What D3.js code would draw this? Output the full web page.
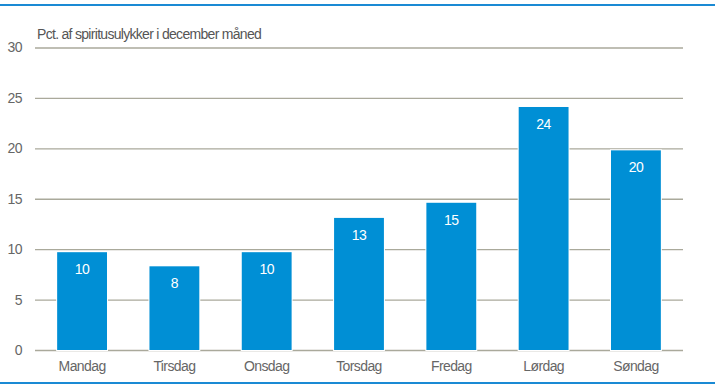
<!DOCTYPE html>
<html><head><meta charset="utf-8">
<script src="https://cdn.jsdelivr.net/npm/d3@7/dist/d3.min.js"></script>
<style>body{margin:0;background:#fff}svg{display:block}text{font-family:"Liberation Sans",Arial,sans-serif}</style>
</head><body>
<svg id="c" width="715" height="391"></svg>
<script>
const categories = ["Mandag","Tirsdag","Onsdag","Torsdag","Fredag","Lørdag","Søndag"];
const values = [9.7, 8.3, 9.7, 13.1, 14.6, 24.1, 19.8];
const labels = ["10","8","10","13","15","24","20"];
const yTicks = [0,5,10,15,20,25,30];
const title = "Pct. af spiritusulykker i december måned";

const svg = d3.select("#c");
const x = d3.scaleBand().domain(categories).range([35,683]).paddingInner(0.46).paddingOuter(0.24);
const y = d3.scaleLinear().domain([0,30]).range([350,47.5]);

// frame lines
svg.append("rect").attr("x",0).attr("y",4).attr("width",715).attr("height",2).attr("fill","#1a8ad4");
svg.append("rect").attr("x",0).attr("y",382).attr("width",715).attr("height",2).attr("fill","#1a8ad4");

// grid
const gy = svg.append("g").attr("transform","translate(35,0)")
  .call(d3.axisLeft(y).tickValues(yTicks).tickSize(-648).tickPadding(13).tickFormat(d3.format("d")));
gy.select(".domain").remove();
gy.selectAll(".tick line").attr("stroke","#aaa99b").attr("stroke-width",1.3);
gy.selectAll(".tick text").attr("fill","#666").style("font-size","14px").attr("letter-spacing","-0.5");

// bars (white outline to cut gridlines)
svg.append("g").selectAll("rect").data(values).join("rect")
  .attr("x",(d,i)=>x(categories[i])).attr("width",x.bandwidth())
  .attr("y",d=>y(d)).attr("height",d=>y(0)-y(d))
  .attr("fill","#008fd5").attr("stroke","#fff").attr("stroke-width",2);

svg.append("g").selectAll("rect").data(values).join("rect")
  .attr("x",(d,i)=>x(categories[i])).attr("width",x.bandwidth())
  .attr("y",d=>y(d)).attr("height",d=>y(0)-y(d)).attr("fill","#008fd5");

// value labels
svg.append("g").selectAll("text").data(values).join("text")
  .attr("x",(d,i)=>x(categories[i])+x.bandwidth()/2).attr("y",d=>y(d)+22)
  .attr("text-anchor","middle").attr("fill","#fff").style("font-size","14px").attr("letter-spacing","-0.5")
  .text((d,i)=>labels[i]);

// x axis labels
const gx = svg.append("g").attr("transform","translate(0,350)")
  .call(d3.axisBottom(x).tickSize(0).tickPadding(11));
gx.select(".domain").remove();
gx.selectAll(".tick text").attr("fill","#666").style("font-size","14px").attr("letter-spacing","-0.6");

// title
svg.append("text").attr("x",37).attr("y",39).attr("fill","#555").style("font-size","14px")
  .attr("letter-spacing","-0.7").text(title);
</script>
</body></html>
